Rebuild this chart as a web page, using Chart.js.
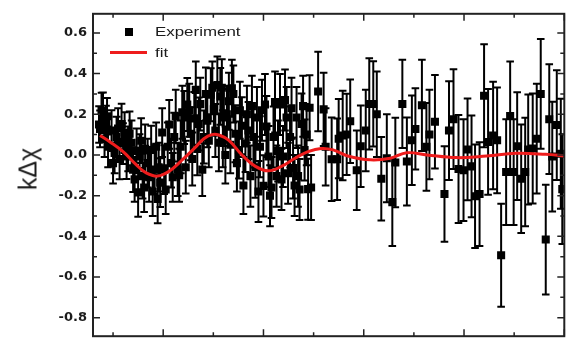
<!DOCTYPE html>
<html>
<head>
<meta charset="utf-8">
<script src="https://cdn.jsdelivr.net/npm/chart.js"></script>
<style>
  body { margin: 0; overflow: hidden; background: #fff; }
  #caixa { position: relative; width: 570px; height: 343px; overflow: hidden; }
  #myChart { position: absolute; left: 0; top: 0; }
  #tituloY {
    position: absolute; left: 28px; top: 169px;
    font-family: "Liberation Sans", Arial, sans-serif; font-size: 25px; line-height: 1;
    color: #1b1b1b; white-space: nowrap;
    transform: translate(-50%, -50%) rotate(-90deg);
  }
  .legenda {
    position: absolute; font-family: "Liberation Sans", Arial, sans-serif;
    font-size: 13px; line-height: 1; color: #1b1b1b; white-space: nowrap;
    transform-origin: left center; transform: scaleX(1.3);
  }
  #marcaExp { position: absolute; left: 125px; top: 28px; width: 8px; height: 8px; background: #000; }
  #marcaFit { position: absolute; left: 110px; top: 51px; width: 37px; height: 2.5px; background: #ee1c1c; }
</style>
</head>
<body>
<div id="caixa">
  <canvas id="myChart" width="570" height="350"></canvas>
  <div id="tituloY">kΔχ</div>
  <div id="marcaExp"></div>
  <div class="legenda" style="left:155px; top:25px;">Experiment</div>
  <div id="marcaFit"></div>
  <div class="legenda" style="left:155px; top:46px;">fit</div>
</div>
<script>

// pontos experimentais (k, kΔχ e barra de erro)
var kExp = [2.72, 2.74, 2.77, 2.80, 2.83, 2.86, 2.88, 2.90, 2.97, 3.00, 3.03, 3.07, 3.10, 3.13, 3.17, 3.20,
  3.23, 3.27, 3.30, 3.33, 3.37, 3.40, 3.43, 3.47, 3.50, 3.53, 3.56, 3.59, 3.62, 3.64, 3.69, 3.72,
  3.76, 3.79, 3.83, 3.86, 3.89, 3.91, 3.94, 3.98, 4.02, 4.05, 4.09, 4.12, 4.16, 4.19, 4.22, 4.25,
  4.29, 4.32, 4.35, 4.38, 4.42, 4.45, 4.48, 4.52, 4.55, 4.58, 4.62, 4.65, 4.68, 4.71, 4.74, 4.78,
  4.81, 4.85, 4.88, 4.91, 4.95, 4.98, 5.01, 5.04, 5.08, 5.11, 5.14, 5.17, 5.19, 5.21, 5.24, 5.27,
  5.31, 5.34, 5.37, 5.40, 5.44, 5.47, 5.51, 5.53, 5.57, 5.60, 5.64, 5.67, 5.70, 5.74, 5.77, 5.80,
  5.84, 5.87, 5.90, 5.93, 5.97, 6.00, 6.03, 6.06, 6.10, 6.13, 6.16, 6.20, 6.23, 6.26, 6.29, 6.33,
  6.36, 6.39, 6.43, 6.46, 6.49, 6.53, 6.56, 6.59, 6.62, 6.66, 6.69, 6.72, 6.76, 6.79, 6.82, 6.86,
  6.89, 6.92, 6.95,
  7.09, 7.20, 7.24, 7.36, 7.47, 7.50, 7.58, 7.66, 7.73, 7.86, 7.94, 8.04, 8.11, 8.19, 8.26, 8.35,
  8.46, 8.57, 8.63, 8.77, 8.86, 8.96, 9.03, 9.16, 9.25, 9.31, 9.42, 9.61, 9.70, 9.79, 9.89, 9.99,
  10.07, 10.15, 10.22, 10.31, 10.40, 10.48, 10.58, 10.66, 10.74, 10.84, 10.92, 10.99, 11.06, 11.14,
  11.22, 11.28, 11.37, 11.45, 11.53, 11.63, 11.70, 11.76, 11.85, 11.93, 11.96]

var chiExp = [0.150, 0.128, 0.216, 0.207, 0.080, 0.152, 0.190, 0.040, 0.120, -0.040, 0.010, 0.088, 0.130, -0.020, 0.152, 0.056,
  0.110, -0.008, 0.030, 0.104, 0.060, -0.072, -0.120, 0.020, -0.184, -0.008, 0.070, -0.104, -0.160, 0.030, -0.040, -0.110,
  0.024, -0.180, -0.072, 0.040, -0.216, -0.060, -0.136, 0.110, -0.072, -0.170, 0.040, 0.150, -0.040, -0.110, 0.088, 0.190,
  -0.072, -0.100, 0.040, 0.210, 0.184, -0.060, 0.248, 0.220, 0.104, -0.020, 0.180, 0.320, 0.030, 0.152, 0.250, -0.072,
  0.088, 0.300, 0.168, 0.070, 0.296, 0.330, 0.224, 0.120, 0.344, 0.060, 0.288, 0.330, 0.080, 0.184, 0.000, 0.200,
  0.264, 0.050, 0.328, 0.300, 0.104, -0.040, 0.024, 0.220, 0.144, -0.150, 0.056, 0.200, 0.120, -0.104, 0.240, 0.088,
  -0.060, 0.184, -0.180, 0.040, 0.220, -0.152, 0.248, 0.140, -0.008, -0.200, -0.160, 0.088, 0.260, -0.104, 0.020, 0.248,
  -0.120, -0.008, 0.270, 0.184, -0.090, 0.088, 0.230, -0.064, -0.150, 0.184, -0.104, -0.170, 0.152, 0.240, 0.024, 0.100,
  -0.168, 0.232, -0.160,
  0.312, 0.224, 0.040, -0.021, -0.021, 0.080, 0.096, 0.101, 0.166, -0.075, 0.043, 0.120, 0.251, 0.251, 0.200, -0.117,
  -0.016, -0.232, -0.037, 0.251, -0.032, 0.072, 0.128, 0.244, 0.040, 0.101, 0.163, -0.192, 0.120, 0.176, -0.069, -0.075,
  0.027, -0.056, -0.203, -0.192, 0.291, 0.064, 0.096, 0.072, -0.493, -0.084, 0.192, -0.084, 0.043, -0.117,
  -0.084, 0.027, 0.032, 0.080, 0.300, -0.416, 0.176, -0.008, 0.147, 0.006, -0.168]

var erroExp = [0.09, 0.09, 0.09, 0.10, 0.09, 0.09, 0.09, 0.10, 0.10, 0.10, 0.10, 0.10, 0.10, 0.10, 0.10, 0.10,
  0.10, 0.11, 0.11, 0.11, 0.11, 0.11, 0.11, 0.11, 0.12, 0.11, 0.11, 0.11, 0.12, 0.12, 0.12, 0.12,
  0.12, 0.12, 0.12, 0.12, 0.12, 0.12, 0.12, 0.12, 0.12, 0.12, 0.12, 0.12, 0.12, 0.12, 0.12, 0.13,
  0.13, 0.13, 0.13, 0.13, 0.13, 0.13, 0.13, 0.13, 0.13, 0.13, 0.13, 0.14, 0.13, 0.13, 0.13, 0.13,
  0.13, 0.13, 0.13, 0.13, 0.13, 0.13, 0.13, 0.13, 0.14, 0.14, 0.14, 0.14, 0.14, 0.14, 0.14, 0.14,
  0.14, 0.14, 0.14, 0.14, 0.14, 0.14, 0.14, 0.14, 0.14, 0.14, 0.14, 0.14, 0.14, 0.15, 0.15, 0.15,
  0.15, 0.15, 0.15, 0.15, 0.15, 0.15, 0.15, 0.15, 0.15, 0.15, 0.15, 0.15, 0.15, 0.15, 0.15, 0.15,
  0.15, 0.15, 0.15, 0.15, 0.15, 0.15, 0.15, 0.15, 0.15, 0.15, 0.15, 0.15, 0.15, 0.15, 0.15, 0.15,
  0.15, 0.16, 0.16,
  0.195, 0.18, 0.19, 0.205, 0.20, 0.195, 0.22, 0.20, 0.205, 0.195, 0.20, 0.20, 0.224, 0.21, 0.21, 0.205,
  0.216, 0.216, 0.22, 0.217, 0.216, 0.22, 0.20, 0.224, 0.216, 0.22, 0.23, 0.235, 0.243, 0.245, 0.265, 0.25,
  0.25, 0.25, 0.255, 0.255, 0.253, 0.26, 0.264, 0.26, 0.253, 0.26, 0.267, 0.26, 0.265, 0.267,
  0.267, 0.27, 0.27, 0.27, 0.27, 0.27, 0.27, 0.27, 0.27, 0.27, 0.27]

// curva ajustada
var kFit = [2.74, 2.94, 3.20, 3.46, 3.66, 3.89, 4.12, 4.38, 4.65, 4.81, 4.97, 5.11, 5.31, 5.57, 5.84, 6.10,
  6.36, 6.63, 6.89, 7.15, 7.39, 7.68, 8.13, 8.53, 8.86, 9.26, 9.85, 10.45, 11.04, 11.63, 12.0]
var chiFit = [0.096, 0.064, 0.016, -0.048, -0.088, -0.104, -0.080, -0.024, 0.040, 0.080, 0.100, 0.098, 0.072, 0.000, -0.056, -0.078,
  -0.056, -0.016, 0.016, 0.032, 0.025, -0.005, -0.024, -0.016, 0.011, 0.000, -0.013, -0.005, 0.008, 0.003, -0.005]

var yTicks = [-0.8, -0.6, -0.4, -0.2, 0.0, 0.2, 0.4, 0.6]
var yMenores = [-0.7, -0.5, -0.3, -0.1, 0.1, 0.3, 0.5]
var xTicks = [4, 6, 8, 10, 12]
var xMenores = [3, 5, 7, 9, 11]

function montarPontos(xs, ys) {
  let pontos = []
  for (let i = 0; i < xs.length; i++) {
    pontos.push({ x: xs[i], y: ys[i] })
  }
  return pontos
}

// barras de erro, desenhadas por baixo dos quadrados
const barrasErro = {
  id: 'barrasErro',
  beforeDatasetsDraw(chart) {
    const ctx = chart.ctx
    const x = chart.scales.x
    const y = chart.scales.y
    const a = chart.chartArea
    ctx.save()
    ctx.beginPath()
    ctx.rect(a.left, a.top, a.right - a.left, a.bottom - a.top)
    ctx.clip()
    ctx.strokeStyle = '#000'
    ctx.lineWidth = 2
    ctx.beginPath()
    for (let i = 0; i < kExp.length; i++) {
      let px = x.getPixelForValue(kExp[i])
      let topo = y.getPixelForValue(chiExp[i] + erroExp[i])
      let base = y.getPixelForValue(chiExp[i] - erroExp[i])
      ctx.moveTo(px, topo); ctx.lineTo(px, base)
      ctx.moveTo(px - 3.8, topo); ctx.lineTo(px + 3.8, topo)
      ctx.moveTo(px - 3.8, base); ctx.lineTo(px + 3.8, base)
    }
    ctx.stroke()
    ctx.restore()
  }
}

// moldura fechada com ticks para dentro
const moldura = {
  id: 'moldura',
  afterDraw(chart) {
    const ctx = chart.ctx
    const x = chart.scales.x
    const y = chart.scales.y
    const a = chart.chartArea
    ctx.save()
    ctx.strokeStyle = '#222'
    ctx.lineWidth = 2
    ctx.strokeRect(a.left, a.top, a.right - a.left, a.bottom - a.top)
    ctx.lineWidth = 1.5
    ctx.beginPath()
    function tickY(v, len) {
      let py = y.getPixelForValue(v)
      ctx.moveTo(a.left, py); ctx.lineTo(a.left + len, py)
      ctx.moveTo(a.right, py); ctx.lineTo(a.right - len, py)
    }
    function tickX(v, len) {
      let px = x.getPixelForValue(v)
      ctx.moveTo(px, a.top); ctx.lineTo(px, a.top + len)
      ctx.moveTo(px, a.bottom); ctx.lineTo(px, a.bottom - len)
    }
    yTicks.forEach(v => tickY(v, 7))
    yMenores.forEach(v => tickY(v, 4))
    xTicks.forEach(v => tickX(v, 7))
    xMenores.forEach(v => tickX(v, 4))
    ctx.stroke()
    ctx.restore()
  }
}

const config = {
  type: 'scatter',
  data: {
    datasets: [
      {
        label: 'fit',
        data: montarPontos(kFit, chiFit),
        showLine: true,
        borderColor: '#ee1c1c',
        borderWidth: 3,
        pointRadius: 0,
        tension: 0.4,
        order: 0
      },
      {
        label: 'Experiment',
        data: montarPontos(kExp, chiExp),
        pointStyle: 'rect',
        pointRadius: 5.7,
        backgroundColor: '#000',
        borderWidth: 0,
        order: 1
      }
    ]
  },
  options: {
    responsive: false,
    animation: false,
    devicePixelRatio: 1,
    layout: { padding: { top: 13, right: 1, bottom: 5, left: 0 } },
    plugins: { legend: { display: false }, tooltip: { enabled: false } },
    scales: {
      x: { type: 'linear', min: 2.6, max: 12, display: false },
      y: {
        min: -0.891,
        max: 0.694,
        grid: { display: false, drawTicks: false },
        border: { display: false },
        afterFit: function (s) { s.width = 93 },
        afterBuildTicks: function (s) { s.ticks = yTicks.map(v => ({ value: v })) },
        ticks: {
          padding: 6,
          color: '#1b1b1b',
          font: { family: 'DejaVu Sans', size: 13, weight: 'bold' },
          callback: function (v) { return Number(v).toFixed(1) }
        }
      }
    }
  },
  plugins: [barrasErro, moldura]
}

var myChart = new Chart(document.getElementById('myChart'), config)
</script>
</body>
</html>
